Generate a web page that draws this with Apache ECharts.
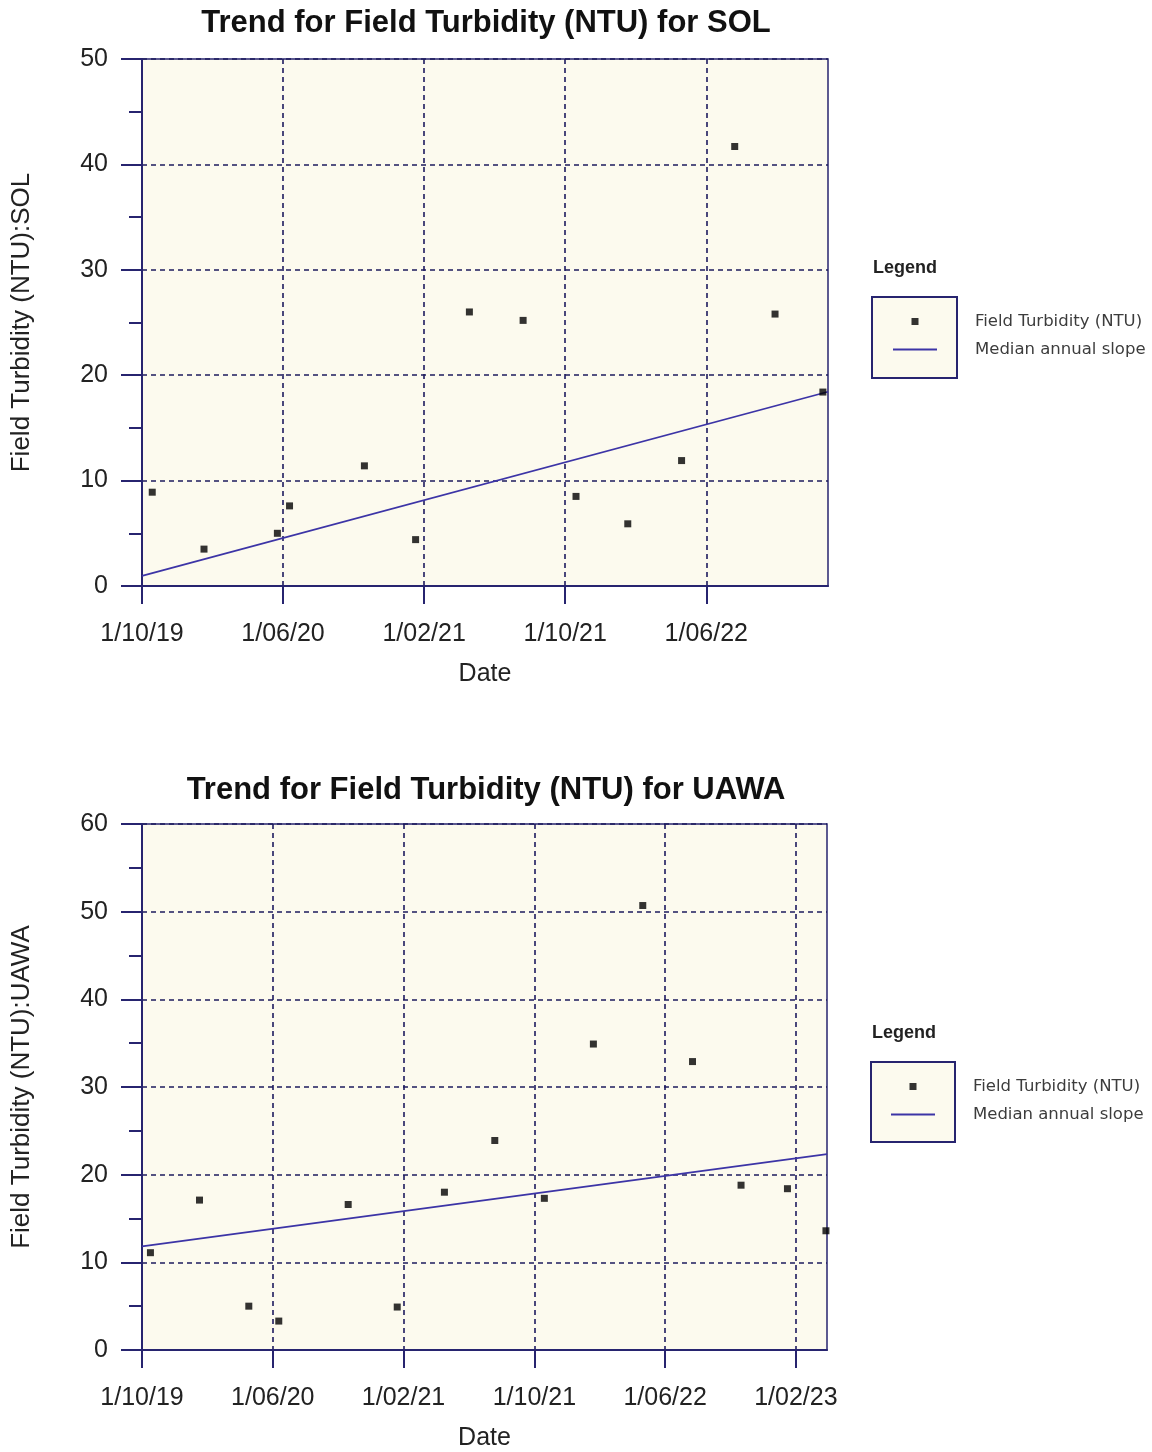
<!DOCTYPE html>
<html><head><meta charset="utf-8">
<script src="https://cdn.jsdelivr.net/npm/echarts@6/dist/echarts.min.js"></script>
<style>html,body{margin:0;padding:0;background:#fff}#c{width:1152px;height:1452px}</style>
</head><body><div id="c"></div>
<script>
// ---- data ----
const xTickLabels = ['1/10/19', '1/06/20', '1/02/21', '1/10/21', '1/06/22', '1/02/23'];
const solDates = ['2019-10-19', '2020-01-17', '2020-05-22', '2020-06-12', '2020-10-20', '2021-01-17', '2021-04-18',
  '2021-07-20', '2021-10-20', '2022-01-18', '2022-04-19', '2022-07-20', '2022-09-28', '2022-12-20'];
const solValues = [8.9, 3.5, 5.0, 7.6, 11.4, 4.4, 26.0, 25.2, 8.5, 5.9, 11.9, 41.7, 25.8, 18.4];
const solTrendDates = ['2019-10-01', '2022-12-29'];
const solTrendValues = [0.95, 18.43];
const uawaDates = ['2019-10-17', '2020-01-17', '2020-04-17', '2020-06-12', '2020-10-20', '2021-01-20', '2021-04-16',
  '2021-07-19', '2021-10-20', '2022-01-20', '2022-04-20', '2022-07-22', '2022-10-21', '2023-01-16', '2023-03-27'];
const uawaValues = [11.1, 17.1, 5.0, 3.3, 16.6, 4.9, 18.0, 23.9, 17.3, 34.9, 50.7, 32.9, 18.8, 18.4, 13.6];
const uawaTrendDates = ['2019-10-01', '2023-03-29'];
const uawaTrendValues = [11.83, 22.34];
const seriesNames = ['Field Turbidity (NTU)', 'Median annual slope'];

// ---- helpers ----
function monthIndex(s) {
  const p = s.split('-').map(Number);
  const dim = new Date(p[0], p[1], 0).getDate();
  return (p[0] - 2019) * 12 + (p[1] - 10) + (p[2] - 1) / dim;
}
const NAVY = '#27246f';
const GRIDC = '#1d1b5e';
const TREND = '#3c34a6';
const BG = '#fcfaee';
const FONT = 'Liberation Sans, Arial, sans-serif';

function xLabel(v) {
  const i = Math.round(v / 8);
  return Math.abs(v - 8 * i) < 1e-6 ? (xTickLabels[i] || '') : '';
}

function panel(idx, top, height, xmaxDate, ymax, yName) {
  const ticks = [];
  const xmax = monthIndex(xmaxDate);
  for (let v = 0; v <= xmax; v += 8) ticks.push(v);
  return {
    grid: { left: 142, top: top, width: 686 - idx, height: height, show: true, backgroundColor: BG, borderColor: NAVY, borderWidth: 1.5 },
    xAxis: {
      type: 'value', gridIndex: idx, min: 0, max: xmax, interval: 8,
      name: 'Date', nameLocation: 'middle', nameGap: 76,
      nameTextStyle: { fontSize: 25, color: '#222', fontFamily: FONT },
      axisLine: { show: true, onZero: false, lineStyle: { color: NAVY, width: 2 } },
      axisTick: { show: true, inside: false, length: 18, lineStyle: { color: NAVY, width: 2 }, customValues: ticks },
      axisLabel: { customValues: ticks, formatter: xLabel, margin: 36, fontSize: 25, color: '#222', fontFamily: FONT },
      splitLine: { show: true, lineStyle: { color: GRIDC, type: [5, 4], width: 1.6 } }
    },
    yAxis: {
      type: 'value', gridIndex: idx, min: 0, max: ymax, interval: 10,
      name: yName, nameLocation: 'middle', nameGap: 107, nameRotate: 90,
      nameTextStyle: { fontSize: 26, color: '#222', fontFamily: FONT },
      axisLine: { show: true, onZero: false, lineStyle: { color: NAVY, width: 2 } },
      axisTick: { show: true, inside: false, length: 21, lineStyle: { color: NAVY, width: 2 } },
      minorTick: { show: true, splitNumber: 2, length: 13, lineStyle: { color: NAVY, width: 2 } },
      axisLabel: { margin: 34, fontSize: 25, color: '#222', fontFamily: FONT },
      splitLine: { show: true, lineStyle: { color: GRIDC, type: [5, 4], width: 1.6 } }
    }
  };
}

const p1 = panel(0, 59, 527, solTrendDates[1], 50, 'Field Turbidity (NTU):SOL');
const p2 = panel(1, 824, 527, uawaTrendDates[1], 60, 'Field Turbidity (NTU):UAWA');

function scatter(idx, dates, values) {
  return {
    name: seriesNames[0], type: 'scatter', xAxisIndex: idx, yAxisIndex: idx,
    symbol: 'rect', symbolSize: 7, itemStyle: { color: '#000' }, z: 4,
    data: dates.map((d, i) => [monthIndex(d), values[i]])
  };
}
function trend(idx, dates, values) {
  return {
    name: seriesNames[1], type: 'line', xAxisIndex: idx, yAxisIndex: idx,
    symbol: 'none', lineStyle: { color: TREND, width: 1.8 }, itemStyle: { color: TREND }, z: 3,
    data: dates.map((d, i) => [monthIndex(d), values[i]])
  };
}

function legend(left, top) {
  return {
    left: left, top: top, orient: 'vertical', itemWidth: 44, itemHeight: 7, itemGap: 11, padding: 0,
    selectedMode: false,
    data: [
      { name: seriesNames[0], icon: 'path://M0,0H1V1H0Z', itemStyle: { color: '#000' } },
      { name: seriesNames[1], icon: 'path://M0,0H44V2H0Z', itemStyle: { color: TREND } }
    ],
    textStyle: { fontFamily: 'DejaVu Sans, sans-serif', fontSize: 16.5, color: '#3c3c3c', padding: [0, 0, 0, 33] }
  };
}

const titleStyle = { fontSize: 31, fontWeight: 'bold', color: '#111', fontFamily: FONT };
const legTitleStyle = { fontSize: 18, fontWeight: 'bold', color: '#222', fontFamily: FONT };

const option = {
  animation: false,
  backgroundColor: '#fff',
  title: [
    { text: 'Trend for Field Turbidity (NTU) for SOL', left: 486, top: 8, textAlign: 'center', padding: 0, textStyle: titleStyle },
    { text: 'Trend for Field Turbidity (NTU) for UAWA', left: 486, top: 775, textAlign: 'center', padding: 0, textStyle: titleStyle },
    { text: 'Legend', left: 905, top: 259, textAlign: 'center', padding: 0, textStyle: legTitleStyle },
    { text: 'Legend', left: 904, top: 1024, textAlign: 'center', padding: 0, textStyle: legTitleStyle }
  ],
  graphic: [
    { type: 'rect', shape: { x: 872, y: 297, width: 85, height: 81 }, style: { fill: BG, stroke: NAVY, lineWidth: 2 }, z: 0 },
    { type: 'rect', shape: { x: 871, y: 1062, width: 84, height: 80 }, style: { fill: BG, stroke: NAVY, lineWidth: 2 }, z: 0 }
  ],
  legend: [legend(893, 313), legend(891, 1078)],
  grid: [p1.grid, p2.grid],
  xAxis: [p1.xAxis, p2.xAxis],
  yAxis: [p1.yAxis, p2.yAxis],
  series: [
    trend(0, solTrendDates, solTrendValues),
    scatter(0, solDates, solValues),
    trend(1, uawaTrendDates, uawaTrendValues),
    scatter(1, uawaDates, uawaValues)
  ]
};
const chart = echarts.init(document.getElementById('c'), null, { renderer: 'canvas' });
chart.setOption(option);
</script></body></html>
